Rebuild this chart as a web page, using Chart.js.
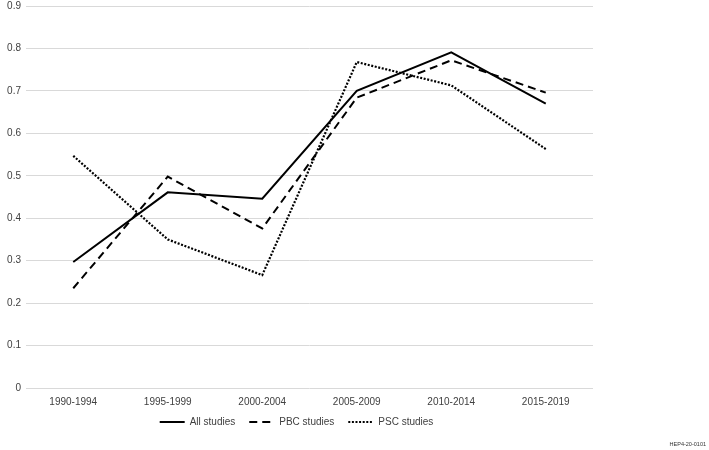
<!DOCTYPE html>
<html>
<head>
<meta charset="utf-8">
<script src="https://cdn.jsdelivr.net/npm/chart.js@4/dist/chart.umd.min.js"></script>
<style>
  html, body { margin: 0; padding: 0; background: #fff; }
  #wrap { width: 709px; height: 450px; position: relative; }
</style>
</head>
<body>
<div id="wrap"><canvas id="chart"></canvas></div>
<script>
var periods = ['1990-1994', '1995-1999', '2000-2004', '2005-2009', '2010-2014', '2015-2019'];
var allStudies = [0.297, 0.461, 0.446, 0.700, 0.791, 0.670];
var pbcStudies = [0.235, 0.498, 0.376, 0.684, 0.772, 0.696];
var pscStudies = [0.547, 0.350, 0.266, 0.768, 0.713, 0.563];
var yTicks = [0, 0.1, 0.2, 0.3, 0.4, 0.5, 0.6, 0.7, 0.8, 0.9];

var textColor = '#404040';
var font = { family: '"Liberation Sans", Arial, sans-serif', size: 10 };

// small figure code in the corner
var figCode = {
  id: 'figCode',
  afterDraw: function(chart){
    var ctx = chart.ctx;
    ctx.save();
    ctx.font = '5.5px "Liberation Sans", Arial, sans-serif';
    ctx.fillStyle = '#333';
    ctx.textAlign = 'right';
    ctx.textBaseline = 'middle';
    ctx.fillText('HEP4-20-0101', 706, 444);
    ctx.restore();
  }
};

// pull the legend up closer to the axis labels
var legendShift = {
  id: 'legendShift',
  afterLayout: function(chart){
    if (chart.legend) {
      chart.legend.top -= 13;
      chart.legend.bottom -= 13;
    }
  }
};

function line(label, data, dash, width){
  return {
    label: label,
    data: data,
    borderColor: '#000',
    backgroundColor: '#000',
    borderWidth: width,
    borderDash: dash,
    borderCapStyle: 'butt',
    pointRadius: 0,
    tension: 0,
    fill: false
  };
}

new Chart(document.getElementById('chart'), {
  type: 'line',
  data: {
    labels: periods,
    datasets: [
      line('All studies', allStudies, [], 2),
      line('PBC studies', pbcStudies, [8, 5], 2),
      line('PSC studies', pscStudies, [2, 1.6], 2.2)
    ]
  },
  options: {
    responsive: true,
    maintainAspectRatio: false,
    animation: false,
    layout: { padding: { top: 6, right: 116, bottom: 0, left: 0 } },
    plugins: {
      tooltip: { enabled: false },
      legend: {
        position: 'bottom',
        labels: {
          usePointStyle: true,
          pointStyle: 'line',
          pointStyleWidth: 25,
          padding: 14,
          color: textColor,
          font: font,
          generateLabels: function(chart){
            var items = Chart.defaults.plugins.legend.labels.generateLabels(chart);
            items.forEach(function(it){
              var ds = chart.data.datasets[it.datasetIndex];
              it.lineDash = ds.borderDash;
              it.lineWidth = ds.borderWidth;
              it.strokeStyle = '#000';
            });
            return items;
          }
        }
      }
    },
    scales: {
      x: {
        offset: true,
        grid: { display: false, drawTicks: false },
        border: { display: false },
        ticks: { color: textColor, font: font, padding: 8, maxRotation: 0 }
      },
      y: {
        min: 0,
        max: 0.9,
        afterFit: function(s){ s.width = 26; s.paddingTop = 0; s.paddingBottom = 0; },
        afterBuildTicks: function(s){
          s.ticks = yTicks.map(function(v){ return { value: v }; });
        },
        grid: { color: '#d9d9d9', lineWidth: 1, drawTicks: false },
        border: { display: false },
        ticks: {
          color: textColor,
          font: font,
          padding: 5,
          callback: function(v){ return String(Math.round(v * 10) / 10); }
        }
      }
    }
  },
  plugins: [figCode, legendShift]
});
</script>
</body>
</html>
